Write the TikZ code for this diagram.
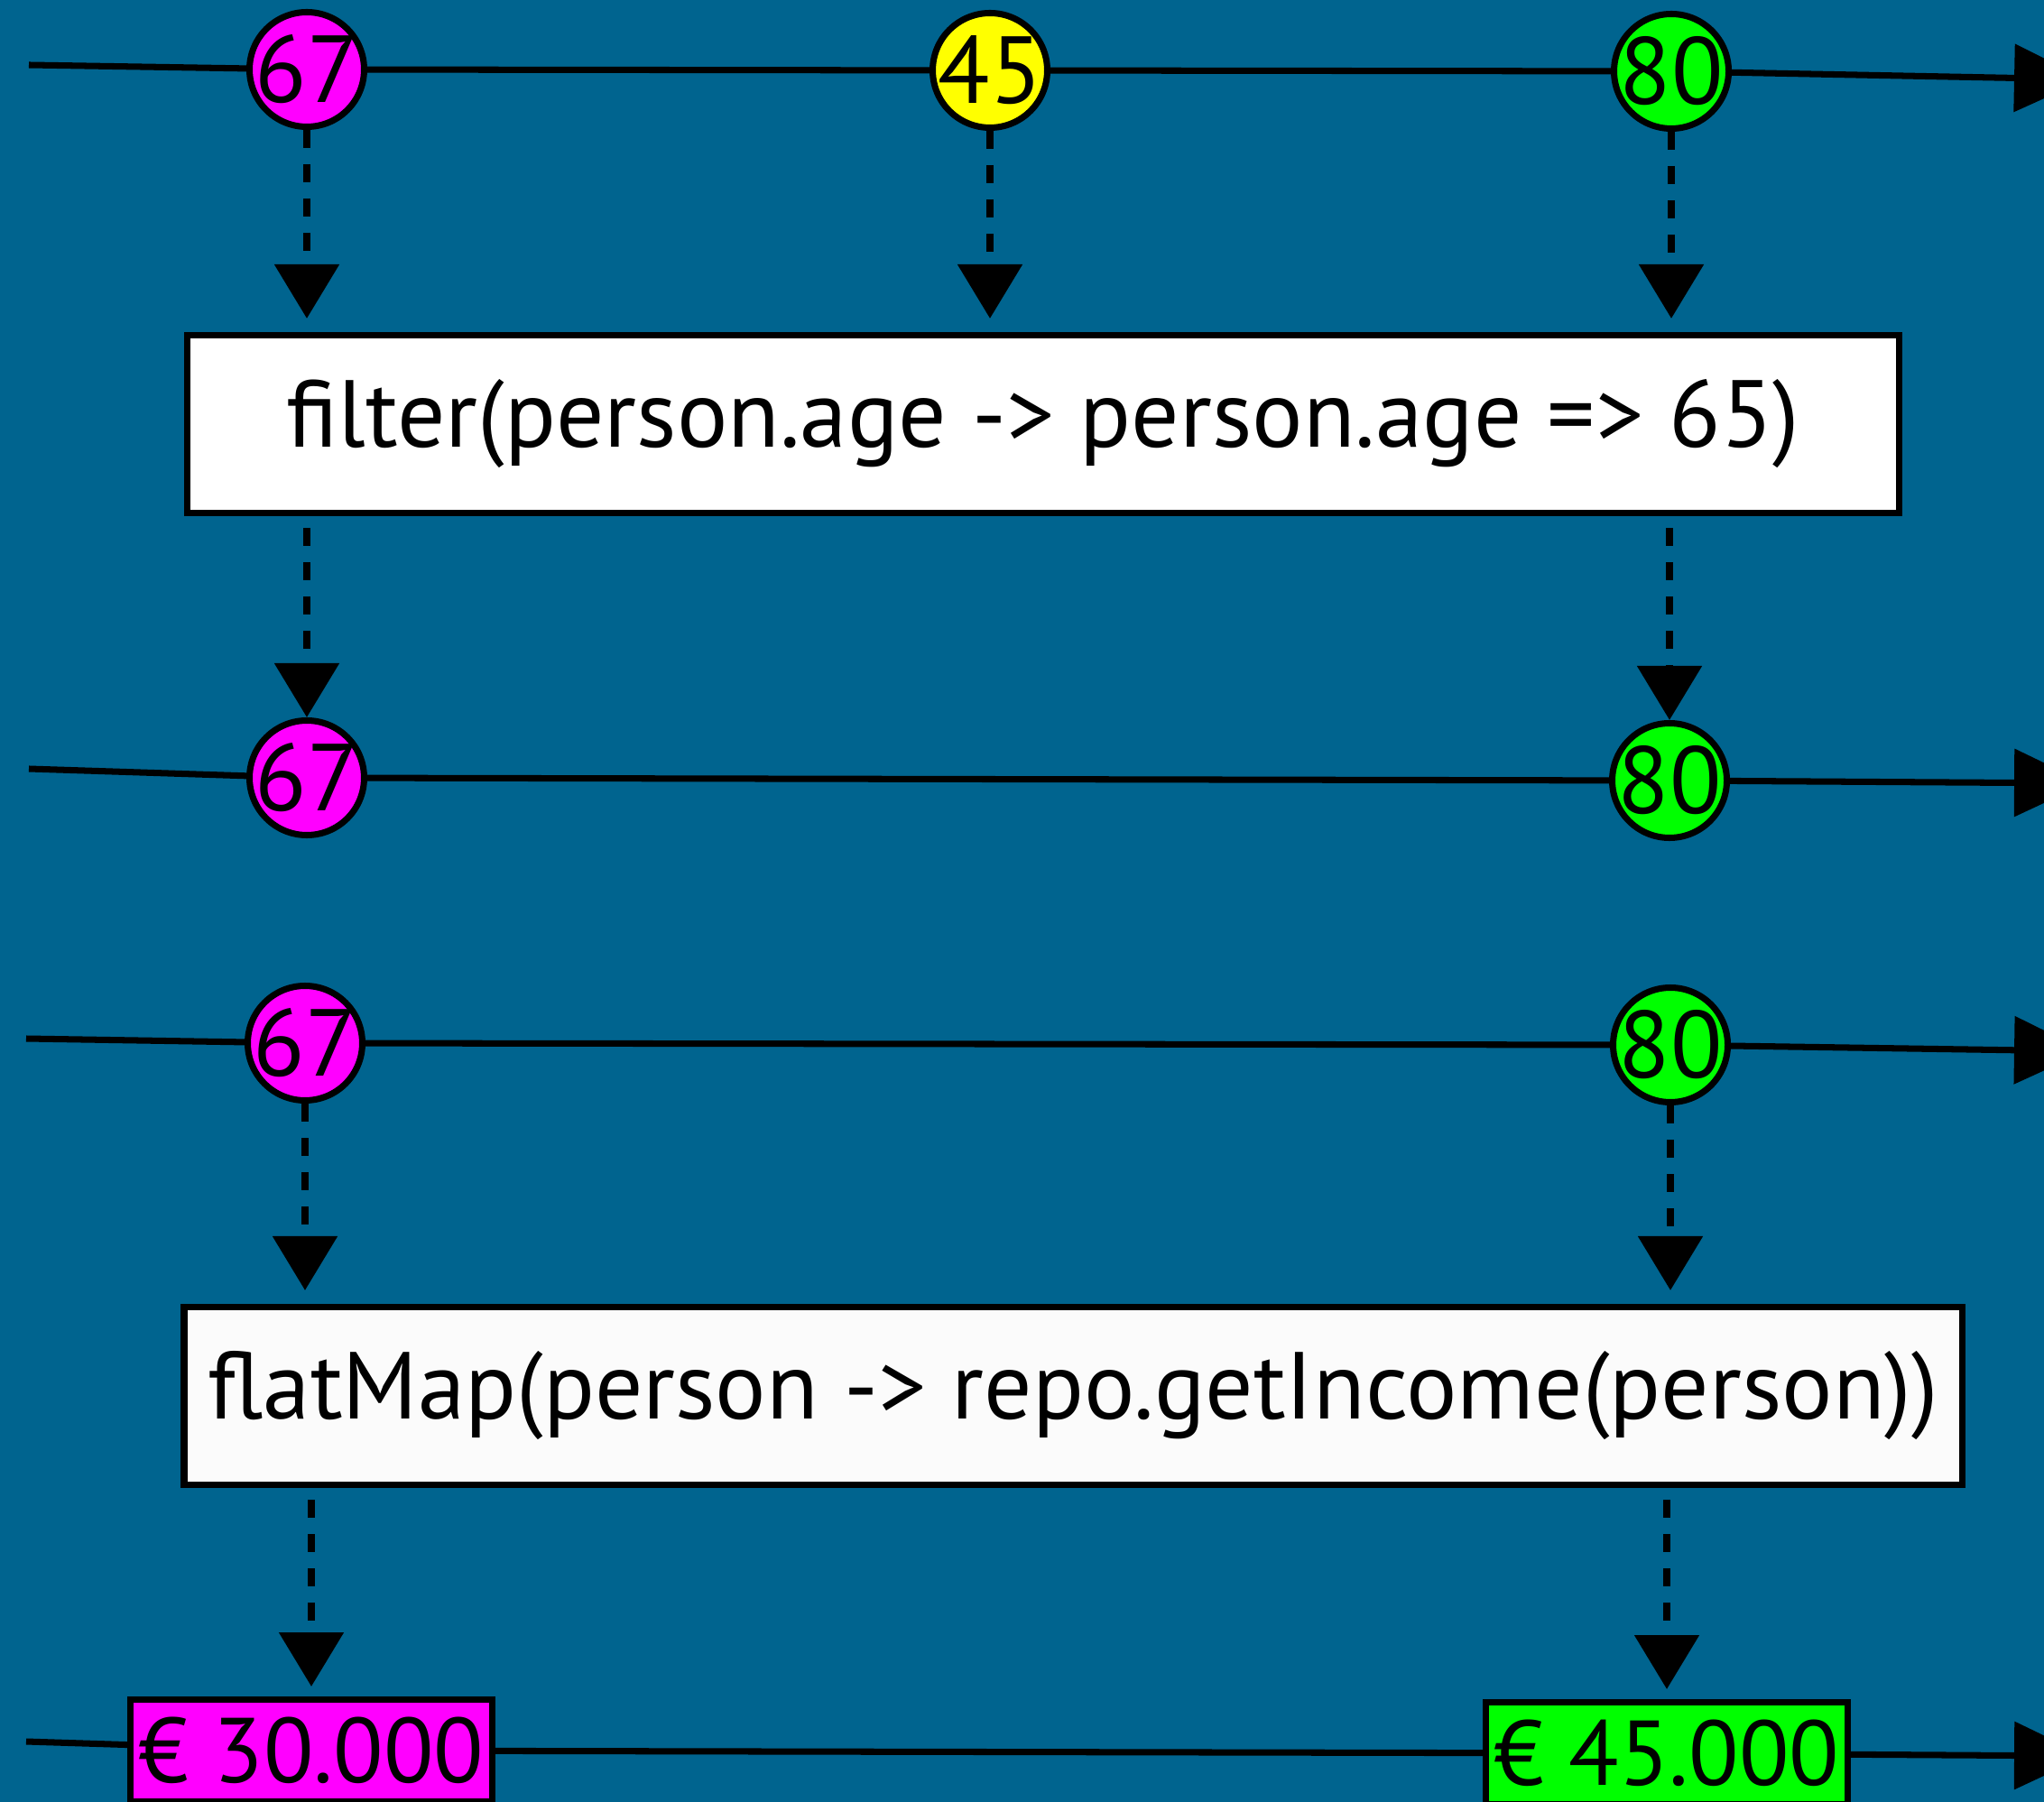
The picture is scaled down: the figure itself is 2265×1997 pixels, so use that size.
\documentclass[tikz,border=0pt]{standalone}
\usepackage{fontspec}
\setmainfont{PT Sans}
\usepackage{xcolor}
\usetikzlibrary{
  positioning,
  arrows.meta,
  calc
}
\definecolor{streamBlue}{HTML}{00648F}
\definecolor{itemMagenta}{HTML}{FF00FF}
\definecolor{itemYellow}{HTML}{FFFF00}
\definecolor{itemGreen}{HTML}{00FF00}
\definecolor{opWhite}{HTML}{FBFBFB}
\tikzset{
  item/.style     = {circle, draw=black, line width=2pt,
                     minimum size=12.7mm, inner sep=-1.5mm,
                     font=\fontsize{30}{30}\selectfont},
  income/.style   = {rectangle, draw=black, line width=2pt,
                     minimum height=11.3mm, inner xsep=0.9mm, inner ysep=0pt,
                     font=\fontsize{29}{29}\selectfont},
  operator/.style = {rectangle, draw=black, fill=white, line width=2pt,
                     minimum height=19.7mm,
                     font=\fontsize{30}{30}\selectfont},
  stream/.style   = {-{Triangle[width=7.4mm, length=8mm]}, line width=2pt,
                     draw=black},
  flow/.style     = {-{Triangle[width=7mm, length=6mm]}, line width=2.5pt,
                     draw=black, dash pattern=on 2mm off 1.8mm}
}

\begin{document}
\begin{tikzpicture}[x=0.1mm, y=-0.1mm]
\useasboundingbox (0,0) rectangle (2265,1997);
\fill[streamBlue] (0,0) rectangle (2265,1997);

% source stream
\coordinate (r1w) at (32,72);
\coordinate (r1e) at (2312,88);
\node[item, fill=itemMagenta] (a67) at (340,77) {67};
\node[item, fill=itemYellow]  (b45) at (1097,78) {45};
\node[item, fill=itemGreen]   (c80) at (1852,79) {80};
\draw[stream] (r1w) -- (a67) -- (b45) -- (c80) -- (r1e);

\node[operator, minimum width=189.7mm] (filter) at (1156,470)
  {filter(person.age -> person.age => 65)};
\foreach \n in {a67, b45, c80}
  \draw[flow, shorten >=1.5mm] (\n) -- (\n |- filter.north);

% filtered stream
\coordinate (r2w) at (32,852);
\coordinate (r2e) at (2312,868);
\node[item, fill=itemMagenta] (a67b) at (340,862) {67};
\node[item, fill=itemGreen]   (c80b) at (1850,865) {80};
\draw[stream] (r2w) -- (a67b) -- (c80b) -- (r2e);
\foreach \n in {a67b, c80b}
  \draw[flow, shorten <=1.3mm] (filter.south -| \n) -- (\n);

% same stream, fed into flatMap
\coordinate (r3w) at (29,1151);
\coordinate (r3e) at (2312,1165);
\node[item, fill=itemMagenta] (a67c) at (338,1156) {67};
\node[item, fill=itemGreen]   (c80c) at (1851,1158) {80};
\draw[stream] (r3w) -- (a67c) -- (c80c) -- (r3e);

\node[operator, fill=opWhite, minimum width=197mm] (flatmap) at (1189,1547)
  {flatMap(person -> repo.getIncome(person))};
\foreach \n in {a67c, c80c}
  \draw[flow, shorten >=1.5mm] (\n) -- (\n |- flatmap.north);

% incomes
\coordinate (r4w) at (29,1930);
\coordinate (r4e) at (2312,1946);
\node[income, fill=itemMagenta] (eur30) at (345,1940) {€ 30.000};
\node[income, fill=itemGreen]   (eur45) at (1847,1943) {€ 45.000};
\draw[stream] (r4w) -- (eur30) -- (eur45) -- (r4e);
\foreach \n in {eur30, eur45}
  \draw[flow, shorten <=1.3mm, shorten >=1.1mm] (flatmap.south -| \n) -- (\n);
\end{tikzpicture}
\end{document}
